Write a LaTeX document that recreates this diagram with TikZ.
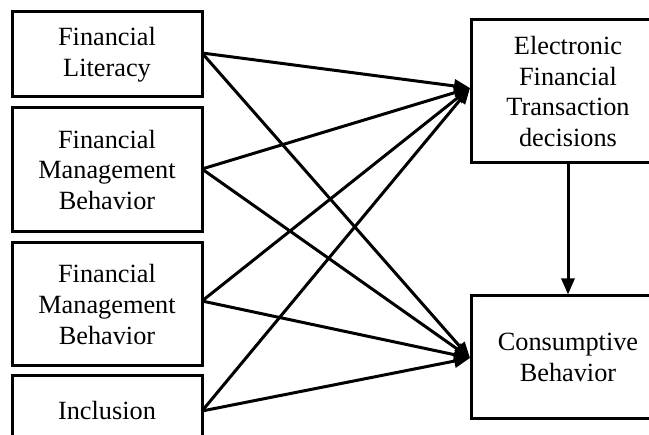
\documentclass[tikz,border=0pt]{standalone}
\usepackage{fontspec}
\setmainfont{Liberation Serif}
\usetikzlibrary{arrows.meta}
\begin{document}
\begin{tikzpicture}[x=1pt,y=-1pt,
  box/.style={draw,line width=3pt,rectangle,inner sep=0pt,align=center,
    font=\fontsize{26.3}{30.8}\selectfont},
  conn/.style={line width=3pt,-{Triangle[length=16pt,width=13pt]}}]
\useasboundingbox (0,0) rectangle (649,435);
\clip (0,0) rectangle (649,435);
\node[box,minimum width=190,minimum height=85] (l1) at (107,54.5) {Financial\\Literacy};
\node[box,minimum width=190,minimum height=124] (l2) at (107,170) {Financial\\Management\\Behavior};
\node[box,minimum width=190,minimum height=123] (l3) at (107,304.5) {Financial\\Management\\Behavior};
\node[box,minimum width=190,minimum height=70] (l4) at (107,411) {Inclusion};
\node[box,minimum width=194,minimum height=143] (r1) at (568,91.5) {Electronic\\Financial\\Transaction\\decisions};
\node[box,minimum width=194,minimum height=123] (r2) at (568,357.5) {Consumptive\\Behavior};
\coordinate (in1) at (470,88);
\coordinate (in2) at (470,358);
\coordinate (o1) at (202,53);
\coordinate (o2) at (202,169);
\coordinate (o3) at (202,301);
\coordinate (o4) at (202,411);
\foreach \s in {o1,o2,o3,o4} {
  \draw[conn] (\s) -- (in1);
  \draw[conn] (\s) -- (in2);
}
\draw[conn] (r1.south) -- (r2.north);
\end{tikzpicture}
\end{document}
